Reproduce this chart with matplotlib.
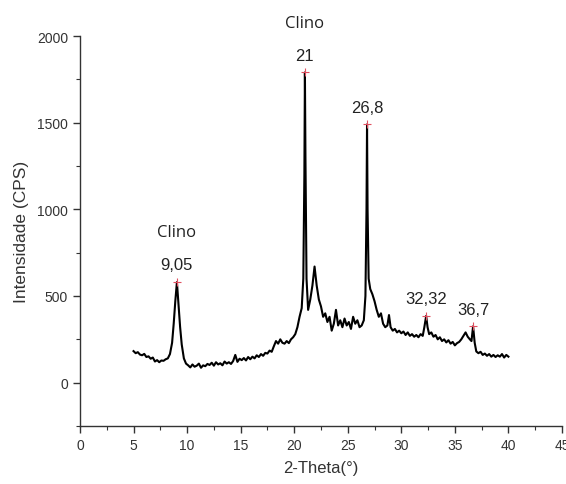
import matplotlib
matplotlib.use("Agg")
import matplotlib.pyplot as plt
from matplotlib.ticker import MultipleLocator

two_theta = [5.0, 5.2, 5.4, 5.6, 5.8, 6.0, 6.2, 6.4, 6.6, 6.8, 7.0, 7.2, 7.4, 7.6, 7.8, 8.0, 8.2, 8.4,
             8.6, 8.75, 8.9, 9.05, 9.2, 9.35, 9.5, 9.7, 9.9,
             10.1, 10.3, 10.5, 10.7, 10.9, 11.1, 11.3, 11.5, 11.7, 11.9, 12.1, 12.3, 12.5, 12.7, 12.9,
             13.1, 13.3, 13.5, 13.7, 13.9, 14.1, 14.3, 14.5, 14.7, 14.9,
             15.1, 15.3, 15.5, 15.7, 15.9, 16.1, 16.3, 16.5, 16.7, 16.9, 17.1, 17.3, 17.5, 17.7, 17.9,
             18.1, 18.3, 18.5, 18.7, 18.9, 19.1, 19.3, 19.5, 19.7, 19.9, 20.1, 20.3, 20.5, 20.7,
             20.85, 20.95, 21.0, 21.05, 21.15, 21.3, 21.5, 21.7, 21.9, 22.1, 22.3, 22.5, 22.7, 22.9,
             23.1, 23.3, 23.5, 23.7, 23.9, 24.1, 24.3, 24.5, 24.7, 24.9, 25.1, 25.3, 25.5, 25.7, 25.9,
             26.1, 26.3, 26.5, 26.65, 26.75, 26.8, 26.85, 26.95, 27.1, 27.3, 27.5, 27.7, 27.9,
             28.1, 28.3, 28.5, 28.7, 28.85, 29.0, 29.2, 29.4, 29.6, 29.8, 30.0, 30.2, 30.4, 30.6, 30.8,
             31.0, 31.2, 31.4, 31.6, 31.8, 32.0, 32.15, 32.32, 32.45, 32.6, 32.8, 33.0, 33.2, 33.4,
             33.6, 33.8, 34.0, 34.2, 34.4, 34.6, 34.8, 35.0, 35.2, 35.4, 35.6, 35.8, 36.0, 36.2, 36.4,
             36.55, 36.7, 36.85, 37.0, 37.2, 37.4, 37.6, 37.8, 38.0, 38.2, 38.4, 38.6, 38.8, 39.0,
             39.2, 39.4, 39.6, 39.8, 40.0]

intensity = [182, 170, 176, 162, 158, 166, 148, 152, 138, 145, 122, 130, 118, 128, 126, 135, 140, 165,
             230, 340, 470, 580, 450, 320, 220, 140, 110,
             100, 88, 105, 92, 98, 110, 86, 100, 95, 108, 102, 115, 98, 118, 105,
             112, 100, 122, 110, 118, 108, 125, 160, 120, 138,
             130, 142, 128, 148, 135, 150, 140, 158, 148, 165, 155, 172, 168, 185, 178,
             210, 240, 225, 250, 230, 225, 240, 228, 250, 262, 280, 320, 380, 430,
             600, 1200, 1790, 1300, 600, 420, 480, 560, 670, 560, 480, 440, 380, 400,
             350, 380, 300, 340, 420, 330, 360, 320, 370, 330, 350, 310, 380, 340, 360,
             320, 330, 360, 500, 1000, 1490, 1000, 600, 540, 510, 470, 420, 380,
             400, 340, 320, 330, 390, 320, 300, 310, 290, 300, 285, 295, 275, 290, 270,
             280, 265, 275, 262, 280, 270, 320, 385, 320, 280, 290, 265, 275, 250,
             262, 240, 250, 232, 245, 225, 235, 215, 228, 235, 250, 270, 290, 265, 250,
             240, 325, 230, 180, 170, 178, 160, 168, 155, 165, 150, 160, 148, 158,
             150, 165, 145, 160, 150]

peak_pos = [9.05, 21.0, 26.8, 32.32, 36.7]
peak_int = [580, 1790, 1490, 385, 325]
peak_labels = ["9,05", "21", "26,8", "32,32", "36,7"]
phase_pos = [9.05, 21.0]
phase_int = [580, 1790]
phase_labels = ["Clino", "Clino"]

fig = plt.figure(figsize=(5.66, 4.85), dpi=100)
ax = fig.add_axes([0.1413, 0.1196, 0.8516, 0.8041])

ax.plot(two_theta, intensity, color="black", lw=1.5)
ax.plot(peak_pos, peak_int, ls="none", marker="+", color="#e05060", ms=6, mew=0.8)

for x, y, t in zip(peak_pos, peak_int, peak_labels):
    ax.annotate(t, (x, y), xytext=(0, 7), textcoords="offset points",
                ha="center", va="bottom", fontsize=12, color="#222222",
                family="Liberation Sans")
for x, y, t in zip(phase_pos, phase_int, phase_labels):
    ax.annotate(t, (x, y), xytext=(0, 30), textcoords="offset points",
                ha="center", va="bottom", fontsize=12, color="#222222",
                family="Open Sans")

ax.set_xlim(0, 45)
ax.set_ylim(-250, 2000)
ax.xaxis.set_major_locator(MultipleLocator(5))
ax.xaxis.set_minor_locator(MultipleLocator(2.5))
ax.yaxis.set_major_locator(MultipleLocator(500))
ax.yaxis.set_minor_locator(MultipleLocator(250))

for s in ["top", "right"]:
    ax.spines[s].set_visible(False)
for s in ["left", "bottom"]:
    ax.spines[s].set_color("#333333")
    ax.spines[s].set_linewidth(1.0)

ax.tick_params(which="major", direction="out", length=5, width=1, colors="#333333",
               labelsize=10)
ax.tick_params(which="minor", direction="out", length=3, width=0.8, colors="#333333")
for lab in ax.get_xticklabels() + ax.get_yticklabels():
    lab.set_family("Liberation Sans")

ax.set_xlabel("2-Theta(°)", fontsize=12, color="#333333", family="Liberation Sans", labelpad=6)
ax.set_ylabel("Intensidade (CPS)", fontsize=12.5, color="#333333", family="Liberation Sans", labelpad=6)

fig.savefig("out.png", dpi=100)
